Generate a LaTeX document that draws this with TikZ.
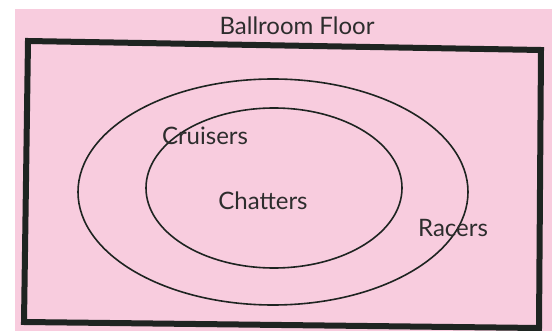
\documentclass[tikz,border=0pt]{standalone}
\usepackage{fontspec}
\setmainfont{Lato}
\definecolor{paper}{RGB}{248,204,222}
\definecolor{ink}{RGB}{30,36,33}
\definecolor{txt}{RGB}{45,45,45}
\tikzset{
  lbl/.style={font=\fontsize{24}{26}\selectfont, text=txt, inner sep=0pt, anchor=base},
  frame/.style={draw=ink, line width=6pt, line join=miter},
  ring/.style={draw=ink, line width=1.6pt}
}
\begin{document}
\begin{tikzpicture}[x=1pt,y=-1pt]
\useasboundingbox (0,0) rectangle (552,331);
\fill[white] (0,0) rectangle (552,331);
\fill[paper] (15,9) rectangle (552,331);
\coordinate (tl) at (28,41);
\coordinate (tr) at (541,50);
\coordinate (br) at (539,328);
\coordinate (bl) at (24,322);
\draw[frame] (tl) -- (tr) -- (br) -- (bl) -- cycle;
\draw[ring] (273,192) ellipse [x radius=195, y radius=113];
\draw[ring] (274,188) ellipse [x radius=128, y radius=80];
\node[lbl] (floor) at (297,35) {Ballroom Floor};
\node[lbl] (cruisers) at (205,145) {Cruisers};
\node[lbl] (chatters) at (263,210) {Chatters};
\node[lbl] (racers) at (453,237) {Racers};
\end{tikzpicture}
\end{document}
